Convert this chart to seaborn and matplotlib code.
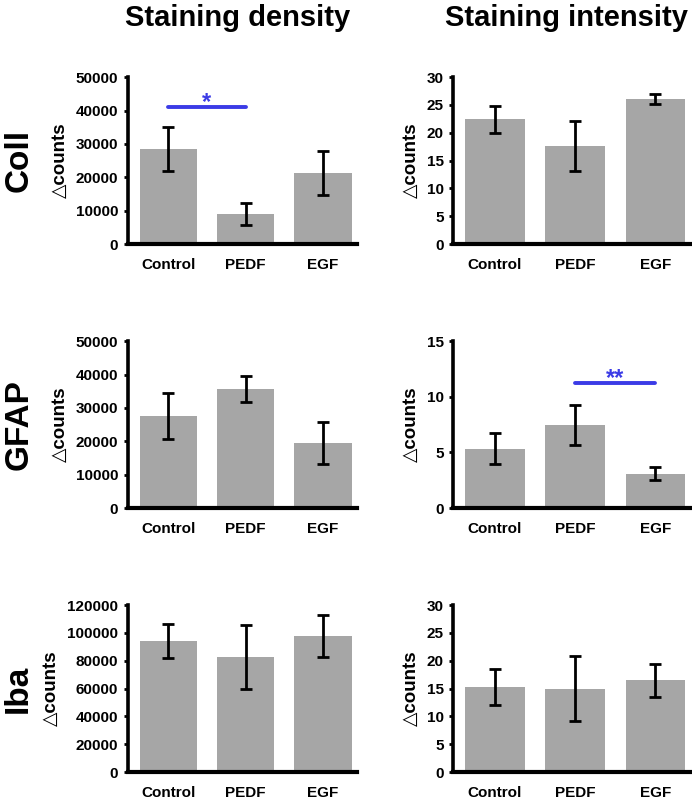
import matplotlib
matplotlib.use("Agg")
import matplotlib.pyplot as plt
import seaborn as sns
import numpy as np
import pandas as pd

sns.set_style("ticks")
plt.rcParams['font.family'] = ['Liberation Sans', 'DejaVu Sans']
plt.rcParams['font.weight'] = 'bold'
for k in ['text.color', 'axes.labelcolor', 'xtick.color', 'ytick.color', 'axes.edgecolor']:
    plt.rcParams[k] = 'black'

groups = ["Control", "PEDF", "EGF"]
rows = ["Coll", "GFAP", "Iba"]
cols = ["Staining density", "Staining intensity"]

coll_density = [28500, 9000, 21300]
coll_density_err = [6600, 3300, 6500]
coll_intensity = [22.4, 17.6, 26.1]
coll_intensity_err = [2.35, 4.5, 0.9]
gfap_density = [27700, 35600, 19500]
gfap_density_err = [6900, 3900, 6200]
gfap_intensity = [5.35, 7.47, 3.1]
gfap_intensity_err = [1.42, 1.8, 0.6]
iba_density = [94300, 82700, 97700]
iba_density_err = [12500, 22700, 15100]
iba_intensity = [15.3, 15.0, 16.5]
iba_intensity_err = [3.27, 5.8, 3.0]

ymax = [[50000, 30], [50000, 15], [120000, 30]]
ystep = [[10000, 5], [10000, 5], [20000, 5]]

data = [[(coll_density, coll_density_err), (coll_intensity, coll_intensity_err)],
        [(gfap_density, gfap_density_err), (gfap_intensity, gfap_intensity_err)],
        [(iba_density, iba_density_err), (iba_intensity, iba_intensity_err)]]

# significance: (row, col, group_a, group_b, level, label)
sig = [(0, 0, "Control", "PEDF", 41000, "*"),
       (1, 1, "PEDF", "EGF", 11.2, "**")]

fig = plt.figure(figsize=(6.92, 8), dpi=100)
lefts = [0.185, 0.655]
widths = [0.331, 0.343]
bottoms = [0.695, 0.365, 0.035]
height = 0.2085

axes = {}
for r in range(3):
    for c in range(2):
        ax = fig.add_axes([lefts[c], bottoms[r], widths[c], height])
        vals, err = data[r][c]
        df = pd.DataFrame({"group": groups, "value": vals})
        sns.barplot(data=df, x="group", y="value", color="#a6a6a6", width=0.74,
                    saturation=1, errorbar=None, ax=ax, edgecolor="none")
        ax.errorbar(np.arange(3), vals, yerr=err, fmt="none", ecolor="black",
                    elinewidth=2, capsize=4, capthick=2)
        ax.set_xlim(-0.52, 2.44)
        ax.set_ylim(0, ymax[r][c])
        ax.set_yticks(np.arange(0, ymax[r][c] + 1e-9, ystep[r][c]))
        ax.yaxis.set_major_formatter(matplotlib.ticker.FuncFormatter(lambda v, p: f"{int(round(v))}"))
        for s in ["top", "right"]:
            ax.spines[s].set_visible(False)
        ax.spines["left"].set_linewidth(2.6)
        ax.spines["bottom"].set_linewidth(3)
        ax.tick_params(axis="y", length=3, width=2, direction="out", labelsize=11, pad=4)
        ax.tick_params(axis="x", length=0, labelsize=11, pad=10)
        for lbl in ax.get_xticklabels() + ax.get_yticklabels():
            lbl.set_fontweight("bold")
        ax.set_xlabel("")
        ax.set_ylabel("△counts", fontsize=13.5, fontweight="bold", labelpad=5)
        axes[(r, c)] = ax

for (r, c, a, b, lvl, lab) in sig:
    ax = axes[(r, c)]
    xa, xb = groups.index(a), groups.index(b)
    ax.plot([xa, xb], [lvl, lvl], color="#3b3be6", lw=2.8, clip_on=False)
    ax.annotate(lab, xy=((xa + xb) / 2, lvl), xytext=(0, -1), textcoords="offset points",
                color="#3b3be6", ha="center", va="baseline", fontsize=17, fontweight="bold")

title_x = [0.344, 0.819]
for c, t in enumerate(cols):
    fig.text(title_x[c], 0.968, t, ha="center", va="baseline", fontsize=21, fontweight="bold")
for r, t in enumerate(rows):
    fig.text(0.027, bottoms[r] + height / 2, t, rotation=90, ha="center", va="center",
             fontsize=24, fontweight="bold")

fig.savefig("out.png", dpi=100)
